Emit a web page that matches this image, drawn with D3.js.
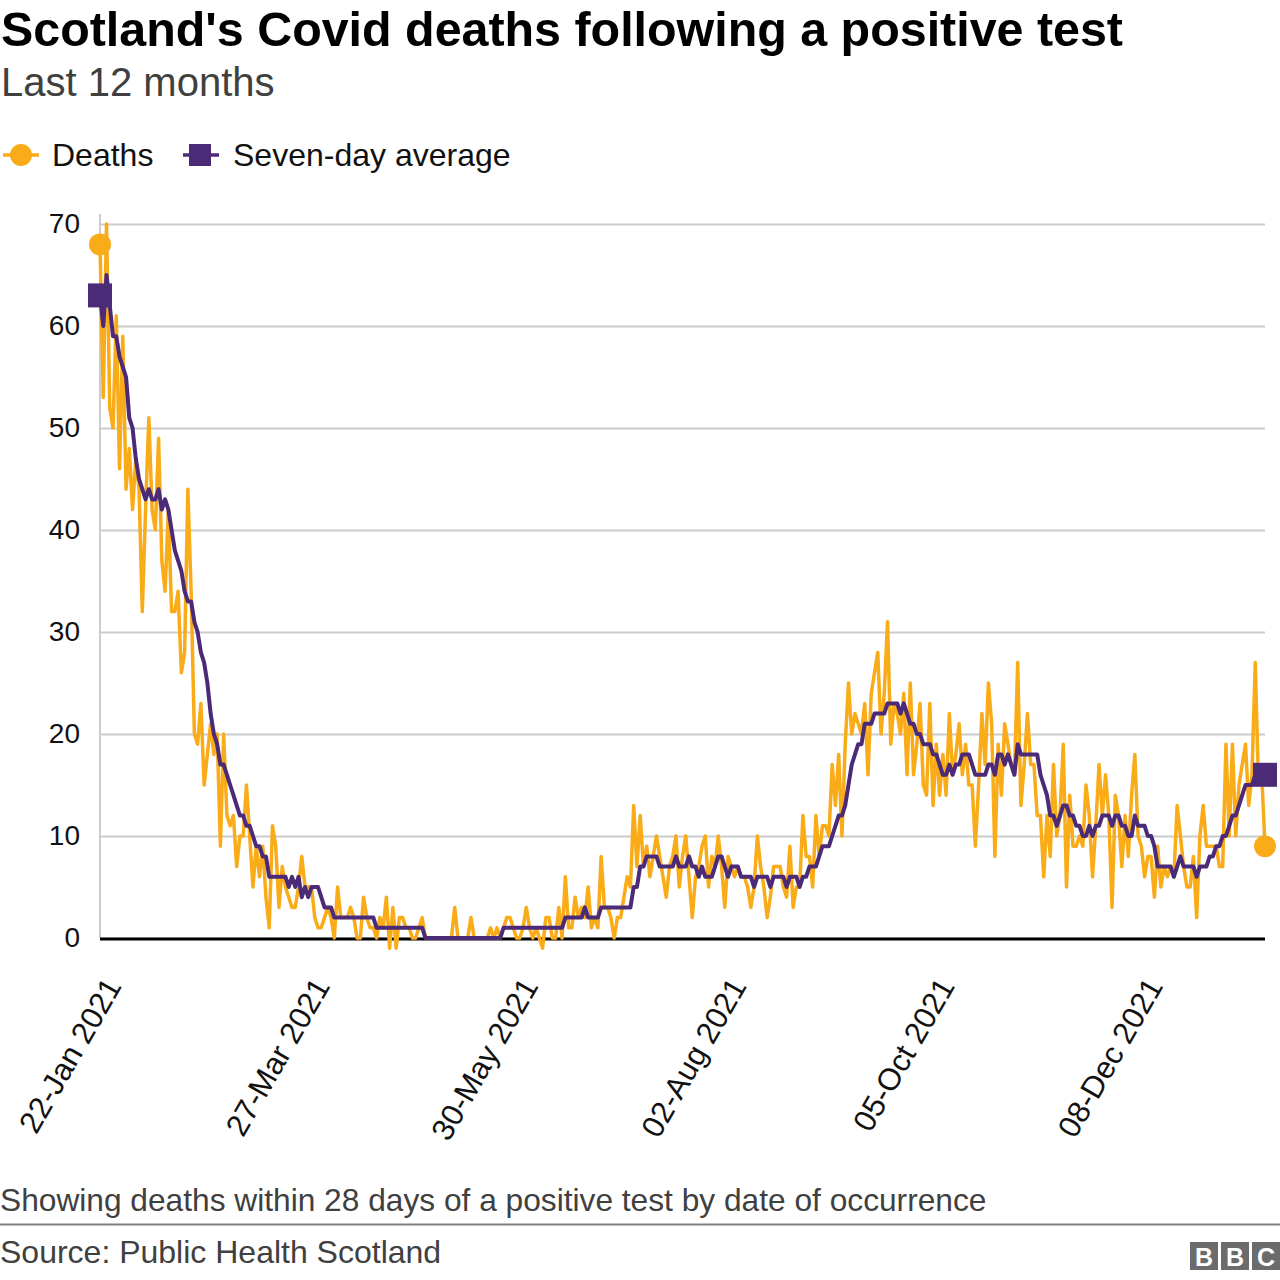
<!DOCTYPE html>
<html>
<head>
<meta charset="utf-8">
<script src="https://cdn.jsdelivr.net/npm/d3@7"></script>
<style>
  html, body { margin: 0; padding: 0; background: #ffffff; }
  svg { display: block; font-family: "Liberation Sans", Arial, Helvetica, sans-serif; }
</style>
</head>
<body>
<svg id="chart" width="1280" height="1280"></svg>
<script>
// ---------------- DATA ----------------
const startDate = "2021-01-22";

const deaths = [
  68, 53, 70, 52, 50, 61, 46, 59, 44, 48,
  42, 47, 44, 32, 42, 51, 42, 40, 49, 37,
  34, 42, 32, 32, 34, 26, 28, 44, 34, 20,
  19, 23, 15, 18, 21, 18, 20, 9, 20, 12,
  11, 12, 7, 10, 10, 15, 10, 5, 9, 6,
  9, 4, 1, 11, 9, 3, 7, 5, 4, 3,
  3, 5, 8, 5, 5, 5, 2, 1, 1, 2,
  3, 2, 0, 5, 2, 2, 2, 3, 2, 0,
  0, 4, 2, 1, 1, 0, 2, 1, 4, -1,
  3, -1, 2, 2, 1, 1, 0, 0, 1, 2,
  0, 0, 0, 0, 0, 0, 0, 0, 0, 3,
  0, 0, 0, 0, 2, 0, 0, 0, 0, 0,
  1, 0, 1, 0, 1, 2, 2, 1, 0, 0,
  1, 3, 1, 0, 1, 0, -1, 2, 2, 0,
  0, 3, 0, 6, 1, 1, 4, 2, 3, 2,
  5, 1, 2, 1, 8, 3, 3, 2, 0, 2,
  2, 4, 6, 5, 13, 7, 12, 7, 9, 6,
  8, 10, 8, 6, 4, 7, 8, 10, 5, 8,
  10, 6, 2, 6, 7, 9, 10, 5, 8, 7,
  10, 7, 3, 8, 7, 6, 7, 6, 6, 5,
  3, 5, 10, 7, 5, 2, 4, 7, 7, 7,
  5, 4, 9, 3, 5, 5, 12, 8, 8, 5,
  12, 8, 11, 11, 10, 17, 13, 18, 10, 19,
  25, 20, 22, 21, 20, 23, 16, 24, 26, 28,
  20, 24, 31, 19, 23, 22, 20, 24, 16, 25,
  16, 19, 23, 15, 14, 23, 13, 19, 14, 18,
  14, 22, 16, 18, 21, 16, 19, 15, 15, 9,
  15, 22, 17, 25, 21, 8, 19, 14, 21, 19,
  17, 16, 27, 13, 17, 22, 17, 17, 12, 12,
  6, 12, 8, 17, 10, 12, 19, 5, 14, 9,
  9, 10, 9, 15, 12, 6, 11, 17, 12, 16,
  12, 3, 14, 12, 7, 12, 8, 14, 18, 10,
  9, 6, 8, 8, 4, 9, 5, 7, 6, 7,
  6, 13, 10, 7, 5, 5, 8, 2, 10, 13,
  9, 9, 9, 9, 7, 7, 19, 10, 19, 10,
  15, 17, 19, 13, 16, 27, 15, 16, 9
];

const sevenDayAverage = [
  63, 60, 65, 62, 59, 59, 57, 56, 55, 51,
  50, 47, 45, 44, 43, 44, 43, 43, 44, 42,
  43, 42, 40, 38, 37, 36, 34, 33, 33, 31,
  30, 28, 27, 25, 22, 20, 19, 17, 17, 16,
  15, 14, 13, 12, 12, 11, 11, 10, 9, 9,
  8, 8, 6, 6, 6, 6, 6, 6, 5, 6,
  5, 6, 4, 5, 4, 5, 5, 5, 4, 3,
  3, 3, 2, 2, 2, 2, 2, 2, 2, 2,
  2, 2, 2, 2, 2, 1, 1, 1, 1, 1,
  1, 1, 1, 1, 1, 1, 1, 1, 1, 1,
  0, 0, 0, 0, 0, 0, 0, 0, 0, 0,
  0, 0, 0, 0, 0, 0, 0, 0, 0, 0,
  0, 0, 0, 0, 1, 1, 1, 1, 1, 1,
  1, 1, 1, 1, 1, 1, 1, 1, 1, 1,
  1, 1, 1, 2, 2, 2, 2, 2, 2, 3,
  2, 2, 2, 2, 3, 3, 3, 3, 3, 3,
  3, 3, 3, 3, 5, 5, 7, 7, 8, 8,
  8, 8, 7, 7, 7, 7, 7, 8, 7, 7,
  7, 8, 7, 7, 6, 7, 6, 6, 6, 7,
  8, 8, 7, 6, 7, 7, 7, 6, 6, 6,
  6, 5, 6, 6, 6, 6, 5, 6, 6, 6,
  6, 5, 6, 6, 6, 5, 6, 6, 7, 7,
  7, 8, 9, 9, 9, 10, 11, 12, 12, 13,
  15, 17, 18, 19, 19, 21, 21, 21, 22, 22,
  22, 22, 23, 23, 23, 23, 22, 23, 22, 21,
  21, 20, 20, 19, 19, 19, 18, 18, 17, 16,
  16, 17, 16, 17, 17, 18, 18, 18, 17, 16,
  16, 16, 16, 17, 17, 16, 18, 18, 17, 18,
  17, 16, 19, 18, 18, 18, 18, 18, 18, 16,
  15, 14, 12, 12, 11, 12, 13, 13, 12, 12,
  11, 11, 10, 10, 11, 10, 11, 11, 12, 12,
  12, 11, 12, 12, 11, 11, 10, 10, 12, 11,
  11, 11, 10, 10, 9, 7, 7, 7, 7, 7,
  6, 7, 8, 7, 7, 7, 7, 6, 7, 7,
  7, 8, 8, 9, 9, 10, 10, 11, 12, 12,
  13, 14, 15, 15, 15, 16, 16, 16, 16
];

const yTicks = [0, 10, 20, 30, 40, 50, 60, 70];
const xTickDates = ["2021-01-22", "2021-03-27", "2021-05-30", "2021-08-02", "2021-10-05", "2021-12-08"];
const seriesNames = ["Deaths", "Seven-day average"];

const titleText = "Scotland's Covid deaths following a positive test";
const subtitleText = "Last 12 months";
const noteText = "Showing deaths within 28 days of a positive test by date of occurrence";
const sourceText = "Source: Public Health Scotland";

// ---------------- SETUP ----------------
const ORANGE = "#FAAB18";
const PURPLE = "#4B2A78";
const svg = d3.select("#chart");
const parse = d3.utcParse("%Y-%m-%d");
const t0 = parse(startDate);
const dates = deaths.map((_, i) => d3.utcDay.offset(t0, i));
const deathPts = deaths.map((v, i) => ({ date: dates[i], value: v }));
const avgPts = sevenDayAverage.map((v, i) => ({ date: dates[i], value: v }));

const x = d3.scaleUtc().domain([dates[0], dates[dates.length - 1]]).range([100, 1265]);
const y = d3.scaleLinear().domain([0, 70]).range([938, 224]);

// ---------------- TITLES ----------------
svg.append("text").attr("x", 1).attr("y", 46)
  .attr("font-size", 48.4).attr("font-weight", "bold").attr("fill", "#000")
  .text(titleText);
svg.append("text").attr("x", 1).attr("y", 96)
  .attr("font-size", 40).attr("fill", "#404040")
  .text(subtitleText);

// ---------------- LEGEND ----------------
const lg = svg.append("g");
lg.append("line").attr("x1", 3).attr("x2", 39).attr("y1", 155).attr("y2", 155)
  .attr("stroke", ORANGE).attr("stroke-width", 3.5);
lg.append("circle").attr("cx", 21).attr("cy", 155).attr("r", 11).attr("fill", ORANGE);
lg.append("text").attr("x", 52).attr("y", 166).attr("font-size", 32).attr("fill", "#111")
  .text(seriesNames[0]);
lg.append("line").attr("x1", 183).attr("x2", 219).attr("y1", 155).attr("y2", 155)
  .attr("stroke", PURPLE).attr("stroke-width", 3.5);
lg.append("rect").attr("x", 189).attr("y", 144).attr("width", 22).attr("height", 22).attr("fill", PURPLE);
lg.append("text").attr("x", 233).attr("y", 166).attr("font-size", 32).attr("fill", "#111")
  .text(seriesNames[1]);

// ---------------- GRID + Y AXIS ----------------
const yAxis = d3.axisLeft(y).tickValues(yTicks).tickSize(-1165).tickPadding(20).tickFormat(d3.format("d"));
const gy = svg.append("g").attr("transform", "translate(100,0)").call(yAxis);
gy.select(".domain").remove();
gy.selectAll(".tick line").attr("stroke", "#cccccc").attr("stroke-width", 2);
gy.selectAll(".tick text").attr("font-size", 28).attr("fill", "#111")
  .attr("font-family", "'Liberation Sans', Arial, sans-serif");

// left vertical axis line
svg.append("line").attr("x1", 100).attr("x2", 100).attr("y1", 214).attr("y2", 938)
  .attr("stroke", "#cccccc").attr("stroke-width", 2);

// ---------------- X AXIS ----------------
const xAxis = d3.axisBottom(x).tickValues(xTickDates.map(parse)).tickSize(0)
  .tickFormat(d3.utcFormat("%d-%b %Y"));
const gx = svg.append("g").attr("transform", "translate(0,938)").call(xAxis);
gx.select(".domain").remove();
gx.selectAll(".tick text")
  .attr("font-size", 31).attr("fill", "#111")
  .attr("font-family", "'Liberation Sans', Arial, sans-serif")
  .attr("text-anchor", "end")
  .attr("y", 0).attr("dy", 0)
  .attr("transform", "translate(22,48) rotate(-60)");

// baseline
svg.append("line").attr("x1", 100).attr("x2", 1265).attr("y1", 939).attr("y2", 939)
  .attr("stroke", "#000").attr("stroke-width", 3);

// ---------------- SERIES ----------------
const line = d3.line().x(d => x(d.date)).y(d => y(d.value));
svg.append("path").datum(deathPts).attr("d", line)
  .attr("fill", "none").attr("stroke", ORANGE).attr("stroke-width", 3.5)
  .attr("stroke-linejoin", "round");
svg.append("path").datum(avgPts).attr("d", line)
  .attr("fill", "none").attr("stroke", PURPLE).attr("stroke-width", 4)
  .attr("stroke-linejoin", "round");

// end markers
[deathPts[0], deathPts[deathPts.length - 1]].forEach(p => {
  svg.append("circle").attr("cx", x(p.date)).attr("cy", y(p.value)).attr("r", 11).attr("fill", ORANGE);
});
[avgPts[0], avgPts[avgPts.length - 1]].forEach(p => {
  svg.append("rect").attr("x", x(p.date) - 12).attr("y", y(p.value) - 12)
    .attr("width", 24).attr("height", 24).attr("fill", PURPLE);
});

// ---------------- FOOTER ----------------
svg.append("text").attr("x", 0).attr("y", 1211).attr("font-size", 31.7).attr("fill", "#404040")
  .text(noteText);
svg.append("line").attr("x1", 0).attr("x2", 1280).attr("y1", 1224.5).attr("y2", 1224.5)
  .attr("stroke", "#808080").attr("stroke-width", 2);
svg.append("text").attr("x", 0).attr("y", 1263).attr("font-size", 32).attr("fill", "#404040")
  .text(sourceText);

// BBC logo
const logo = svg.append("g").attr("transform", "translate(1190,1242)");
["B", "B", "C"].forEach((ch, i) => {
  logo.append("rect").attr("x", i * 31).attr("y", 0).attr("width", 28).attr("height", 28).attr("fill", "#6b6b6b");
  logo.append("text").attr("x", i * 31 + 14).attr("y", 24).attr("text-anchor", "middle")
    .attr("font-size", 25).attr("font-weight", "bold").attr("fill", "#fff").text(ch);
});
</script>
</body>
</html>
